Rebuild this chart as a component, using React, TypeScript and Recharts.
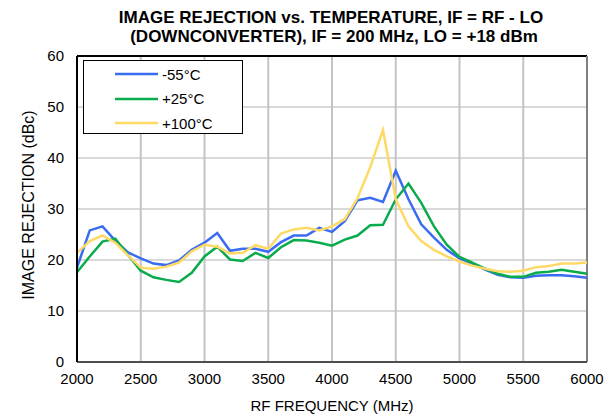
import { CartesianGrid, Customized, Legend, Line, LineChart, ReferenceLine, XAxis, YAxis } from "recharts";

const freqs = [
  2000, 2100, 2200, 2300, 2400, 2500, 2600, 2700, 2800, 2900, 3000, 3100, 3200, 3300, 3400, 3500, 3600, 3700,
  3800, 3900, 4000, 4100, 4200, 4300, 4400, 4500, 4600, 4700, 4800, 4900, 5000, 5100, 5200, 5300, 5400, 5500,
  5600, 5700, 5800, 5900, 6000,
];
const minus55 = [
  18.5, 25.8, 26.6, 23.8, 21.5, 20.3, 19.3, 19.0, 19.9, 22.0, 23.4, 25.3, 21.8, 22.2, 22.2, 21.6, 23.5, 24.8,
  24.8, 26.3, 25.5, 27.6, 31.7, 32.2, 31.4, 37.5, 31.9, 27.0, 24.4, 22.0, 20.3, 19.3, 18.1, 17.1, 16.6, 16.5,
  16.9, 17.0, 17.0, 16.8, 16.5,
];
const plus25 = [
  17.6, 20.7, 23.6, 24.2, 21.0, 17.9, 16.6, 16.1, 15.7, 17.5, 20.7, 22.6, 20.1, 19.8, 21.4, 20.4, 22.5, 23.9,
  23.8, 23.4, 22.8, 24.0, 24.8, 26.8, 26.9, 31.9, 35.0, 31.2, 26.6, 23.0, 20.6, 19.5, 18.3, 17.3, 16.7, 16.7,
  17.5, 17.7, 18.1, 17.7, 17.3,
];
const plus100 = [
  21.4, 23.7, 24.8, 23.4, 20.9, 18.5, 18.3, 18.7, 19.5, 21.7, 23.0, 22.6, 21.3, 21.4, 22.9, 22.2, 25.2, 26.0,
  26.3, 25.8, 26.6, 28.0, 32.1, 38.2, 45.5, 31.9, 26.6, 23.7, 22.0, 20.7, 19.7, 18.9, 18.3, 17.8, 17.7, 17.9,
  18.6, 18.8, 19.3, 19.3, 19.5,
];
const xTicks = [2000, 2500, 3000, 3500, 4000, 4500, 5000, 5500, 6000];
const yTicks = [0, 10, 20, 30, 40, 50, 60];
const series = [
  { key: "m55", name: "-55°C", color: "#3a6cf2", values: minus55 },
  { key: "p25", name: "+25°C", color: "#0aab4c", values: plus25 },
  { key: "p100", name: "+100°C", color: "#ffd966", values: plus100 },
];

const data = freqs.map((f, i) => {
  const row: Record<string, number> = { freq: f };
  series.forEach((s) => (row[s.key] = s.values[i]));
  return row;
});

const FONT = "'Liberation Sans', Arial, sans-serif";

function LegendBox() {
  return (
    <div
      style={{
        width: 160,
        height: 74,
        boxSizing: "border-box",
        border: "1.5px solid #000",
        background: "#fff",
        fontFamily: FONT,
        fontSize: 15,
        color: "#000",
        paddingTop: 1,
      }}
    >
      {series.map((s) => (
        <div key={s.key} style={{ display: "flex", alignItems: "center", height: 24.5 }}>
          <svg width={74} height={6} style={{ display: "block" }}>
            <line x1={31} y1={3} x2={74} y2={3} stroke={s.color} strokeWidth={2.5} />
          </svg>
          <span style={{ marginLeft: 4 }}>{s.name}</span>
        </div>
      ))}
    </div>
  );
}

function Title() {
  return (
    <g fontFamily={FONT} fontWeight="bold" fontSize={17} fill="#000" textAnchor="middle">
      <text x={331} y={23}>IMAGE REJECTION vs. TEMPERATURE, IF = RF - LO</text>
      <text x={334} y={42}>(DOWNCONVERTER), IF = 200 MHz, LO = +18 dBm</text>
    </g>
  );
}

export default function App() {
  return (
    <div style={{ position: "absolute", left: 0, top: 0, width: 610, height: 417, background: "#fff" }}>
      <LineChart width={610} height={417} data={data} margin={{ top: 56, right: 23, bottom: 0, left: 0 }}>
        <CartesianGrid vertical={false} stroke="#d9d9d9" strokeWidth={2} />
        <CartesianGrid horizontal={false} stroke="#c3c3c3" strokeWidth={2} />
        <XAxis
          dataKey="freq"
          type="number"
          domain={[2000, 6000]}
          ticks={xTicks}
          height={55}
          tickLine={false}
          tickSize={6}
          tickMargin={5}
          axisLine={{ stroke: "#4d4d4d", strokeWidth: 2 }}
          tick={{ fontSize: 15, fill: "#000", fontFamily: FONT }}
          label={{
            content: ({ viewBox }: any) => (
              <text
                x={viewBox.x + viewBox.width / 2}
                y={viewBox.y + 49}
                textAnchor="middle"
                fontFamily={FONT}
                fontSize={15}
                fill="#000"
              >
                RF FREQUENCY (MHz)
              </text>
            ),
          }}
        />
        <YAxis
          type="number"
          domain={[0, 60]}
          ticks={yTicks}
          width={77}
          tickLine={false}
          tickSize={6}
          tickMargin={7}
          axisLine={{ stroke: "#000", strokeWidth: 2 }}
          tick={{ fontSize: 15, fill: "#000", fontFamily: FONT }}
          label={{
            content: ({ viewBox }: any) => {
              const cx = 28;
              const cy = viewBox.y + viewBox.height / 2 - 4;
              return (
                <text
                  x={cx}
                  y={cy}
                  transform={`rotate(-90 ${cx} ${cy})`}
                  textAnchor="middle"
                  dominantBaseline="central"
                  fontFamily={FONT}
                  fontSize={16}
                  fill="#000"
                >
                  IMAGE REJECTION (dBc)
                </text>
              );
            },
          }}
        />
        <ReferenceLine y={60} stroke="#000" strokeWidth={2} />
        <ReferenceLine x={6000} stroke="#808080" strokeWidth={2} />
        {series.map((s) => (
          <Line
            key={s.key}
            dataKey={s.key}
            name={s.name}
            type="linear"
            stroke={s.color}
            strokeWidth={2.5}
            dot={false}
            isAnimationActive={false}
          />
        ))}
        <Legend
          layout="horizontal"
          verticalAlign="middle"
          align="center"
          content={() => <LegendBox />}
          wrapperStyle={{ left: 83, top: 60, width: 160, height: 74 }}
        />
        <Customized component={Title} />
      </LineChart>
    </div>
  );
}
